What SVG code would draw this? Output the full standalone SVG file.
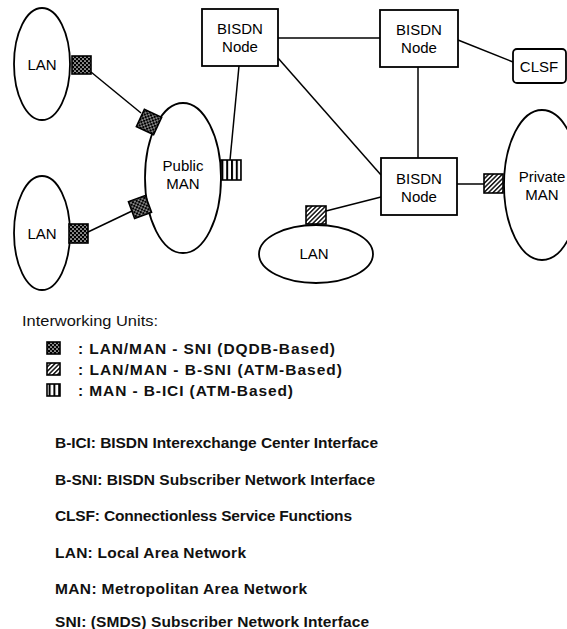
<svg xmlns="http://www.w3.org/2000/svg" width="567" height="629" viewBox="0 0 567 629">
<defs>
<pattern id="dqdb" width="4" height="4" patternUnits="userSpaceOnUse">
<rect width="4" height="4" fill="#000"/>
<circle cx="1" cy="1" r="0.85" fill="#fff"/>
<circle cx="3" cy="3" r="0.85" fill="#fff"/>
</pattern>
<pattern id="bsni" width="3.2" height="3.2" patternUnits="userSpaceOnUse" patternTransform="rotate(45)">
<rect width="3.2" height="3.2" fill="#fff"/>
<line x1="1.6" y1="0" x2="1.6" y2="3.2" stroke="#000" stroke-width="1.4"/>
</pattern>
<pattern id="ici" width="4.8" height="4" patternUnits="userSpaceOnUse" x="0.6">
<rect width="4.8" height="4" fill="#fff"/>
<rect x="0" y="0" width="2" height="4" fill="#000"/>
</pattern>
<style>
.sh{fill:#fff;stroke:#000;stroke-width:1.8}
.ln{stroke:#000;stroke-width:1.5;fill:none}
.t{font-family:"Liberation Sans",Arial,sans-serif;font-size:15px;fill:#000;text-anchor:middle}
.iu{stroke:#000;stroke-width:1.6}
.lg{font-family:"Liberation Sans",Arial,sans-serif;font-size:15.5px;font-weight:bold;fill:#111}
.lr{font-family:"Liberation Sans",Arial,sans-serif;font-size:15px;fill:#111}
</style>
</defs>

<g id="connectors">
<line class="ln" x1="91" y1="72" x2="141" y2="113"/>
<line class="ln" x1="88" y1="232" x2="132" y2="211"/>
<line class="ln" x1="239" y1="66" x2="230" y2="160"/>
<line class="ln" x1="278" y1="38" x2="380" y2="38"/>
<line class="ln" x1="278" y1="58" x2="381" y2="175"/>
<line class="ln" x1="418" y1="67" x2="418" y2="158"/>
<line class="ln" x1="458" y1="40" x2="513" y2="62"/>
<line class="ln" x1="457" y1="184" x2="484" y2="184"/>
<line class="ln" x1="326" y1="211" x2="381" y2="197"/>
</g>

<g id="lan1">
<ellipse class="sh" cx="42" cy="64" rx="28" ry="56"/>
<text class="t" x="42" y="70">LAN</text>
</g>
<g id="lan2">
<ellipse class="sh" cx="42" cy="233" rx="28" ry="57"/>
<text class="t" x="42" y="239">LAN</text>
</g>
<g id="public-man">
<ellipse class="sh" cx="183" cy="178" rx="38" ry="75"/>
<text class="t" x="183" y="171">Public</text>
<text class="t" x="183" y="189">MAN</text>
</g>
<g id="private-man">
<ellipse class="sh" cx="542" cy="185" rx="38" ry="75"/>
<text class="t" x="542" y="182">Private</text>
<text class="t" x="542" y="200">MAN</text>
</g>
<g id="lan3">
<ellipse class="sh" cx="316" cy="254" rx="57" ry="29"/>
<text class="t" x="314" y="259">LAN</text>
</g>
<g id="bisdn1">
<rect class="sh" x="202" y="9" width="76" height="57"/>
<text class="t" x="240" y="34">BISDN</text>
<text class="t" x="240" y="52">Node</text>
</g>
<g id="bisdn2">
<rect class="sh" x="380" y="10" width="78" height="57"/>
<text class="t" x="419" y="35">BISDN</text>
<text class="t" x="419" y="53">Node</text>
</g>
<g id="bisdn3">
<rect class="sh" x="381" y="158" width="76" height="57"/>
<text class="t" x="419" y="184">BISDN</text>
<text class="t" x="419" y="202">Node</text>
</g>
<g id="clsf">
<rect class="sh" x="513" y="49" width="53" height="34" rx="4"/>
<text class="t" x="539" y="72">CLSF</text>
</g>

<g id="iwu">
<rect class="iu" x="72" y="56" width="19" height="18" fill="url(#dqdb)"/>
<rect class="iu" x="69" y="224" width="19" height="19" fill="url(#dqdb)"/>
<rect class="iu" x="-9.5" y="-9.5" width="19" height="19" fill="url(#dqdb)" transform="translate(149 122) rotate(25)"/>
<rect class="iu" x="-9" y="-9" width="18" height="18" fill="url(#dqdb)" transform="translate(140 207) rotate(-20)"/>
<rect class="iu" x="221" y="160" width="20" height="20" fill="url(#ici)"/>
<rect class="iu" x="306" y="206" width="20" height="18" fill="url(#bsni)"/>
<rect class="iu" x="484" y="174" width="19" height="19" fill="url(#bsni)"/>
</g>

<g id="legend">
<text class="lr" x="22" y="326" textLength="136" lengthAdjust="spacingAndGlyphs">Interworking Units:</text>
<rect class="iu" x="47" y="342" width="13" height="12" fill="url(#dqdb)" stroke-width="1"/>
<rect class="iu" x="47" y="363" width="13" height="12" fill="url(#bsni)" stroke-width="1"/>
<rect class="iu" x="47" y="384" width="13" height="12" fill="url(#ici)" stroke-width="1"/>
<text class="lg" x="78" y="354" textLength="257" lengthAdjust="spacing">: LAN/MAN - SNI (DQDB-Based)</text>
<text class="lg" x="78" y="375" textLength="264" lengthAdjust="spacing">: LAN/MAN - B-SNI (ATM-Based)</text>
<text class="lg" x="78" y="396" textLength="215" lengthAdjust="spacing">: MAN - B-ICI (ATM-Based)</text>
<text class="lg" x="55" y="448" textLength="323" lengthAdjust="spacing">B-ICI: BISDN Interexchange Center Interface</text>
<text class="lg" x="55" y="484.5" textLength="320" lengthAdjust="spacing">B-SNI: BISDN Subscriber Network Interface</text>
<text class="lg" x="55" y="521" textLength="297" lengthAdjust="spacing">CLSF: Connectionless Service Functions</text>
<text class="lg" x="55" y="557.5" textLength="191" lengthAdjust="spacing">LAN: Local Area Network</text>
<text class="lg" x="55" y="594" textLength="252" lengthAdjust="spacing">MAN: Metropolitan Area Network</text>
<text class="lg" x="55" y="627" textLength="314" lengthAdjust="spacing">SNI: (SMDS) Subscriber Network Interface</text>
</g>
</svg>
